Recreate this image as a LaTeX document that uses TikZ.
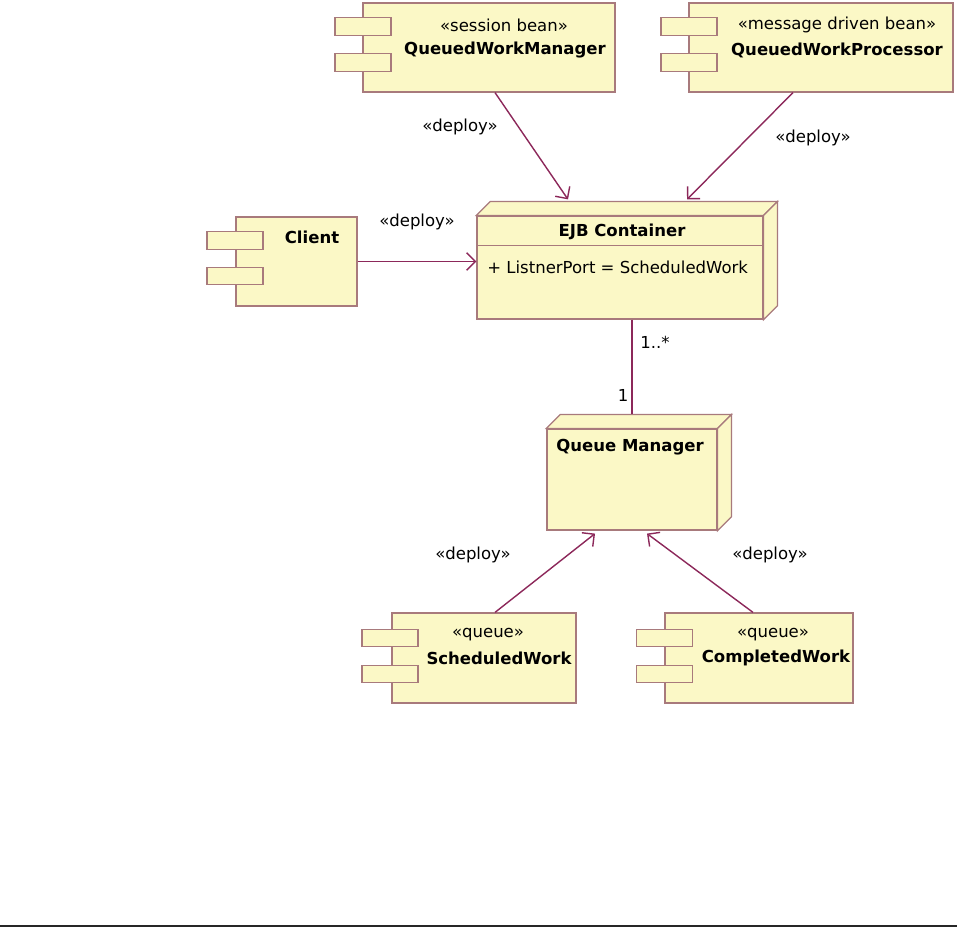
\documentclass[tikz,border=0pt]{standalone}
\usepackage{fontspec}
\setmainfont{DejaVu Sans}
\usetikzlibrary{arrows.meta,calc}
\definecolor{umlfill}{RGB}{251,248,198}
\definecolor{umlborder}{RGB}{168,122,124}
\definecolor{umlline}{RGB}{140,40,90}
\tikzset{every edge/.style={draw=umlline,line width=0.8pt,
		-{Straight Barb[length=5pt,width=10pt]}}}
\tikzstyle{component}=[rectangle,draw=umlborder,fill=umlfill,line width=0.7pt,inner sep=0pt]
\tikzstyle{port}=[rectangle,draw=umlborder,fill=umlfill,line width=0.7pt,inner sep=0pt,minimum width=1.12cm,minimum height=0.35cm]
\tikzstyle{server}=[rectangle,draw=umlborder,fill=umlfill,line width=0.7pt,inner sep=0pt]
\tikzstyle{face}=[draw=umlborder,fill=umlfill,line width=0.7pt]
\tikzstyle{stereo}=[inner sep=0pt,font=\fontsize{9.4}{11}\selectfont]
\tikzstyle{title}=[inner sep=0pt,font=\fontsize{9.4}{11}\selectfont\bfseries]

\begin{document}
\begin{tikzpicture}[x=0.02cm,y=-0.02cm]
	\useasboundingbox (0,0) rectangle (959,928);
	% components
	\node at (489,47.5) [component,minimum width=5.04cm,minimum height=1.78cm] (qwm) {};
	\node at (363,26.5) [port] (qwmA) {};
	\node at (363,62.5) [port] (qwmB) {};
	\node at (504,25) [stereo] (qwmS) {«session bean»};
	\node at (505,50) [title] (qwmN) {QueuedWorkManager};
	\node at (821,47.5) [component,minimum width=5.28cm,minimum height=1.78cm] (qwp) {};
	\node at (689,26.5) [port] (qwpA) {};
	\node at (689,62.5) [port] (qwpB) {};
	\node at (837,25) [stereo] (qwpS) {«message driven bean»};
	\node at (837,50) [title] (qwpN) {QueuedWorkProcessor};
	\node at (296.5,261.5) [component,minimum width=2.42cm,minimum height=1.78cm] (client) {};
	\node at (235,240.5) [port] (clientA) {};
	\node at (235,276) [port] (clientB) {};
	\node at (312,237) [title] (clientN) {Client};
	\node at (484,658) [component,minimum width=3.68cm,minimum height=1.8cm] (sw) {};
	\node at (390,638) [port] (swA) {};
	\node at (390,674) [port] (swB) {};
	\node at (488,635) [stereo] (swS) {«queue»};
	\node at (499,658) [title] (swN) {ScheduledWork};
	\node at (759,658) [component,minimum width=3.76cm,minimum height=1.8cm] (cw) {};
	\node at (664.5,638) [port] (cwA) {};
	\node at (664.5,674) [port] (cwB) {};
	\node at (773,635) [stereo] (cwS) {«queue»};
	\node at (776,658) [title] (cwN) {CompletedWork};
	% nodes (3d boxes)
	\node at (620,267.5) [server,minimum width=5.72cm,minimum height=2.06cm] (ejb) {};
	\filldraw[face] (ejb.north west) -- ++(14,-14) -- ($(ejb.north east)+(14,-14)$) -- (ejb.north east) -- cycle;
	\filldraw[face] (ejb.north east) -- ++(14,-14) -- ($(ejb.south east)+(14,-14)$) -- (ejb.south east) -- cycle;
	\draw[umlborder,line width=0.7pt] ($(ejb.north west)+(0,30)$) -- ($(ejb.north east)+(0,30)$);
	\node at (622,232) [title] (ejbN) {EJB Container};
	\node at (487,267) [stereo,anchor=west] (ejbAttr) {+ ListnerPort = ScheduledWork};
	\node at (632,479.5) [server,minimum width=3.4cm,minimum height=2.02cm] (qm) {};
	\filldraw[face] (qm.north west) -- ++(14,-14) -- ($(qm.north east)+(14,-14)$) -- (qm.north east) -- cycle;
	\filldraw[face] (qm.north east) -- ++(14,-14) -- ($(qm.south east)+(14,-14)$) -- (qm.south east) -- cycle;
	\node at (556,447) [title,anchor=west] (qmN) {Queue Manager};
	% end points
	\coordinate (qwmOut) at ($(qwm.south)+(6,0)$);
	\coordinate (qwpOut) at ($(qwp.south)+(-28,0)$);
	\coordinate (ejbInA) at ($(ejb.north)+(-52,-16)$);
	\coordinate (ejbInB) at ($(ejb.north)+(67,-16)$);
	\coordinate (swOut) at ($(sw.north)+(11,0)$);
	\coordinate (cwOut) at ($(cw.north)+(-6,0)$);
	\coordinate (qmInA) at ($(qm.south)+(-37,3)$);
	\coordinate (qmInB) at ($(qm.south)+(15,3)$);
	\coordinate (qmTop) at ($(qm.north)+(0,-14)$);
	\draw (qwmOut) edge (ejbInA);
	\draw (qwpOut) edge (ejbInB);
	\draw (client.east) edge (client.east -| ejb.west);
	\draw (swOut) edge (qmInA);
	\draw (cwOut) edge (qmInB);
	\draw[umlline,line width=0.8pt] (qm.north |- ejb.south) -- (qmTop);
	% labels
	\node at (460,127) [stereo] (depA) {«deploy»};
	\node at (813,138) [stereo] (depB) {«deploy»};
	\node at (417,222) [stereo] (depC) {«deploy»};
	\node at (473,555) [stereo] (depD) {«deploy»};
	\node at (770,555) [stereo] (depE) {«deploy»};
	\node at (640,342) [stereo,anchor=west] (multA) {1..*};
	\node at (623,395) [stereo] (multB) {1};
	\draw[line width=1.2pt,black!85] (0,926) -- (957,926);
\end{tikzpicture}
\end{document}
